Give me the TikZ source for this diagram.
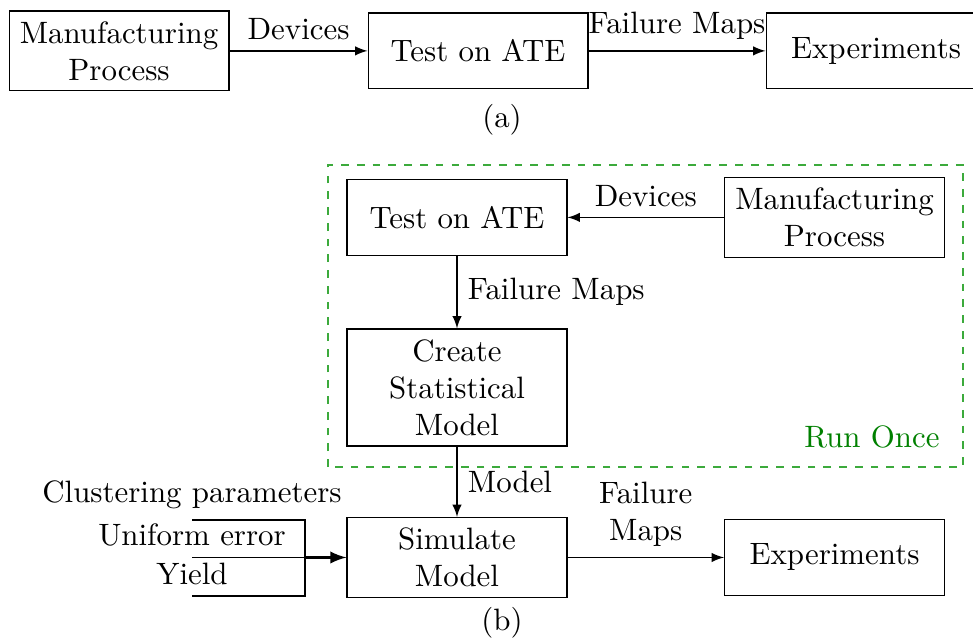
\documentclass[tikz,border=0pt]{standalone}
\usetikzlibrary{arrows}
\definecolor{oncetext}{RGB}{0,128,0}
\definecolor{oncedash}{RGB}{60,170,60}
\begin{document}
\begin{tikzpicture}[block/.style={draw,align=center,minimum width=2.5cm,minimum height=0.86cm},
   flow/.style={line width=0.4pt,-latex}]
   \useasboundingbox (0,0) rectangle (11.067,7.279);
   % (a)
   \node [block] (mfga) at (1.354,6.70) {Manufacturing\\Process};
   \node [block] (testa) at (5.437,6.70) {Test on ATE};
   \node [block] (expa) at (9.964,6.70) {Experiments};
   \draw [flow] (mfga) -- node [above] {Devices} (testa);
   \draw [flow] (testa) -- node [above] {Failure Maps} (expa);
   \node (capa) at (5.71,5.915) {(a)};
   % (b)
   \draw [oncedash,dash pattern=on 2.5pt off 2.6pt] (3.731,1.968) rectangle (10.954,5.403);
   \node [text=oncetext,anchor=east] (once) at (10.81,2.309) {Run Once};
   \node [block] (testb) at (5.198,4.806) {Test on ATE};
   \node [block] (mfgb) at (9.492,4.806) {Manufacturing\\Process};
   \node [block] (statb) at (5.198,2.872) {Create\\Statistical\\Model};
   \node [block] (simb) at (5.198,0.938) {Simulate\\Model};
   \node [block] (expb) at (9.492,0.938) {Experiments};
   \draw [flow] (mfgb) -- node [above] {Devices} (testb);
   \draw [flow] (testb) -- node [right] {Failure Maps} (statb);
   \draw [flow] (statb) -- node [right] {Model} (simb);
   \draw [flow] (simb) -- node [above,align=center] {Failure\\Maps} (expb);
   \node [anchor=south] (clust) at (2.184,1.365) {Clustering parameters};
   \node [anchor=south] (unif) at (2.184,0.938) {Uniform error};
   \node [anchor=south] (yield) at (2.184,0.500) {Yield};
   \coordinate (merge) at (3.469,0.938);
   \draw (clust.south) -| (merge);
   \draw (yield.south) -| (merge);
   \draw (unif.south) -- (merge);
   \draw [flow,line width=0.8pt] (merge) -- (simb);
   \node (capb) at (5.71,0.193) {(b)};
\end{tikzpicture}
\end{document}
